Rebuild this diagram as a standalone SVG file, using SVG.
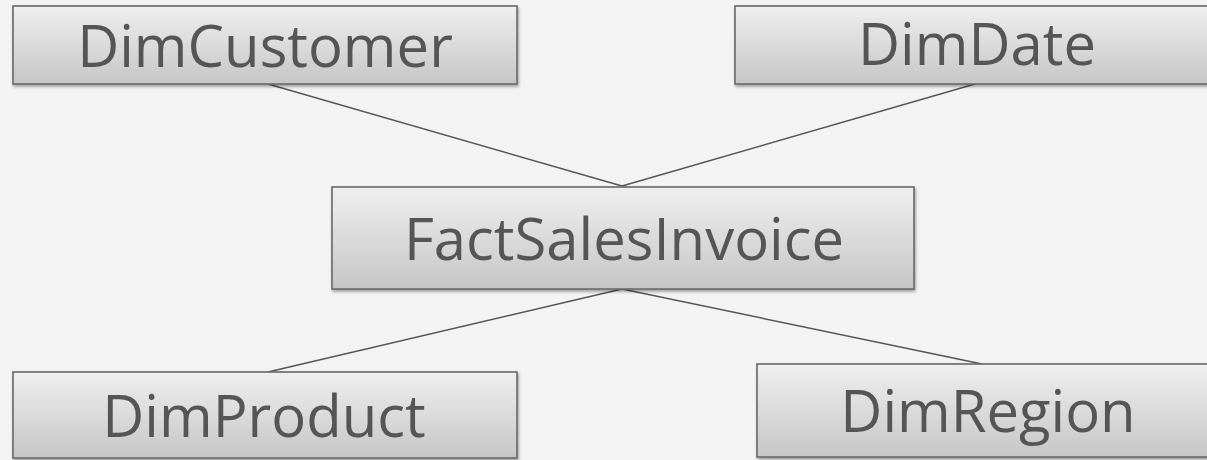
<svg xmlns="http://www.w3.org/2000/svg" width="1207" height="460" viewBox="0 0 1207 460">
<defs>
<linearGradient id="boxGrad" x1="0" y1="0" x2="0" y2="1">
<stop offset="0" stop-color="#efefef"/>
<stop offset="1" stop-color="#c6c6c6"/>
</linearGradient>
<filter id="shadow" x="-5%" y="-10%" width="110%" height="130%">
<feGaussianBlur in="SourceAlpha" stdDeviation="1.5"/>
<feOffset dx="1" dy="2" result="b"/>
<feComponentTransfer><feFuncA type="linear" slope="0.35"/></feComponentTransfer>
<feMerge><feMergeNode/><feMergeNode in="SourceGraphic"/></feMerge>
</filter>
</defs>
<style>
.box{fill:url(#boxGrad);stroke:#686868;stroke-width:1.6;filter:url(#shadow)}
.lbl{font-family:"Open Sans","Noto Sans",sans-serif;font-size:58px;fill:#555555;text-anchor:middle}
.conn{stroke:#555;stroke-width:1.4;fill:none}
</style>
<rect width="1207" height="460" fill="#f3f3f3"/>
<g id="connectors">
<line class="conn" x1="268" y1="84" x2="622" y2="186"/>
<line class="conn" x1="975" y1="84" x2="622" y2="186"/>
<line class="conn" x1="622" y1="289" x2="268" y2="372"/>
<line class="conn" x1="622" y1="289" x2="982" y2="364"/>
</g>
<g id="DimCustomer">
<rect class="box" x="13" y="6" width="504" height="78"/>
<text class="lbl" x="265" y="67">DimCustomer</text>
</g>
<g id="DimDate">
<rect class="box" x="735" y="6" width="484" height="78"/>
<text class="lbl" x="977" y="65">DimDate</text>
</g>
<g id="FactSalesInvoice">
<rect class="box" x="332" y="187" width="582" height="102"/>
<text class="lbl" x="624" y="260">FactSalesInvoice</text>
</g>
<g id="DimProduct">
<rect class="box" x="13" y="372" width="504" height="86"/>
<text class="lbl" x="264" y="437">DimProduct</text>
</g>
<g id="DimRegion">
<rect class="box" x="757" y="364" width="462" height="93"/>
<text class="lbl" x="988" y="432">DimRegion</text>
</g>
</svg>
